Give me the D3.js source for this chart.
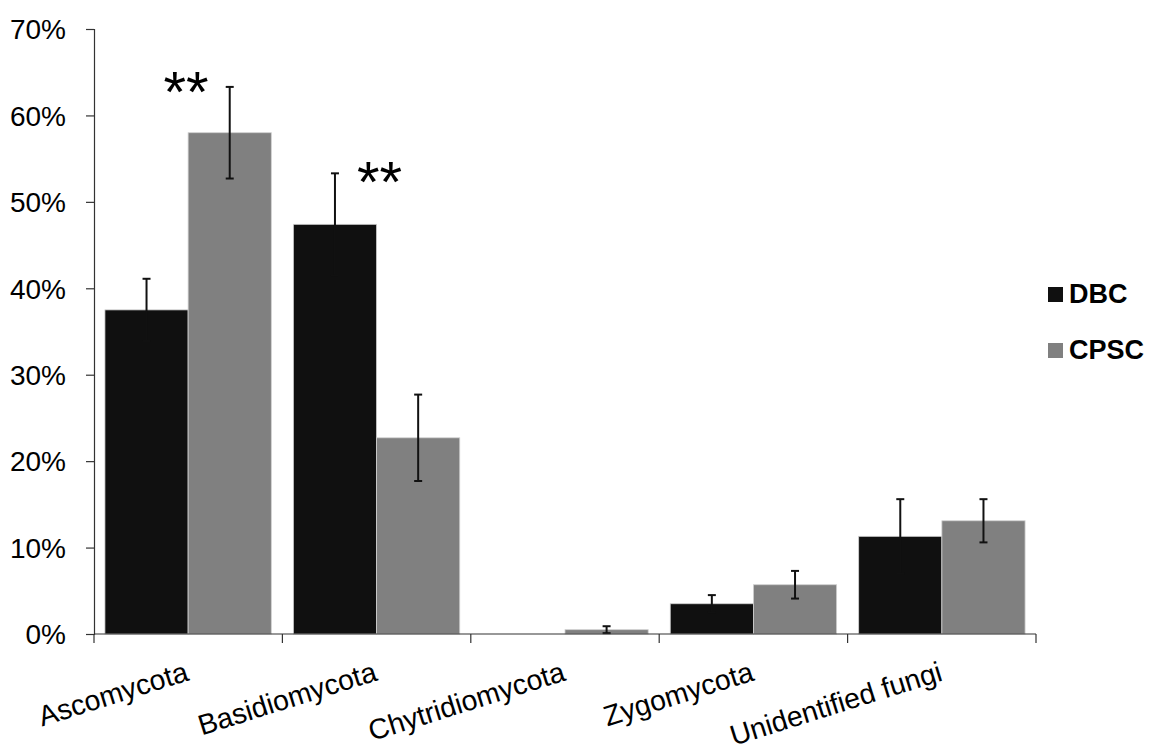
<!DOCTYPE html>
<html lang="en">
<head>
  <meta charset="UTF-8">
  <title>Fungal phyla DBC vs CPSC</title>
  <style>
    body { margin: 0; background: #fff; }
    text { font-family: Arial, "Liberation Sans", sans-serif; }
  </style>
</head>
<body>
  <svg id="svg" width="1149" height="752"></svg>

  <script src="https://d3js.org/d3.v7.min.js"></script>
  <script>
    // data (percent)
    const categories = ['Ascomycota', 'Basidiomycota', 'Chytridiomycota', 'Zygomycota', 'Unidentified fungi']
    const seriesNames = ['DBC', 'CPSC']
    const dbcValues = [37.5, 47.4, 0, 3.5, 11.3]
    const dbcErrors = [3.6, 5.9, 0, 1.0, 4.3]
    const cpscValues = [58.0, 22.7, 0.5, 5.7, 13.1]
    const cpscErrors = [5.3, 5.0, 0.4, 1.6, 2.5]
    const yTicks = [0, 10, 20, 30, 40, 50, 60, 70]
    // significance markers (value = height of the marker in %)
    const stars = [
      { cat: 'Ascomycota', label: '**', value: 65.2, shift: -2 },
      { cat: 'Basidiomycota', label: '**', value: 54.8, shift: 3 }
    ]

    const colors = { DBC: '#101010', CPSC: '#808080' }

    const margin = { top: 29, right: 113, bottom: 118, left: 94 }
    const width = 1036 - margin.left
    const height = 634 - margin.top

    const svg = d3.select('#svg')
    const g = svg.append('g').attr('transform', `translate(${margin.left}, ${margin.top})`)

    const x = d3.scaleBand().domain(categories).range([0, width]).paddingInner(0.117).paddingOuter(0.058)
    const xs = d3.scaleBand().domain(seriesNames).range([0, x.bandwidth()])
    const y = d3.scaleLinear().domain([0, 70]).range([height, 0])

    // build rows
    const rows = []
    categories.forEach((c, i) => {
      rows.push({ cat: c, series: 'DBC', value: dbcValues[i], err: dbcErrors[i] })
      rows.push({ cat: c, series: 'CPSC', value: cpscValues[i], err: cpscErrors[i] })
    })

    // bars
    g.selectAll('rect.bar')
      .data(rows.filter(d => d.value > 0))
      .join('rect')
      .attr('class', 'bar')
      .attr('x', d => x(d.cat) + xs(d.series))
      .attr('y', d => y(d.value))
      .attr('width', xs.bandwidth())
      .attr('height', d => y(0) - y(d.value))
      .attr('fill', d => colors[d.series])
      .attr('stroke', '#d0d0d0')
      .attr('stroke-width', 0.8)

    // error bars
    const errs = g.selectAll('g.err')
      .data(rows.filter(d => d.err > 0))
      .join('g')
      .attr('class', 'err')
      .attr('transform', d => `translate(${x(d.cat) + xs(d.series) + xs.bandwidth() / 2}, 0)`)
    errs.append('line')
      .attr('y1', d => y(d.value + d.err))
      .attr('y2', d => y(Math.max(0, d.value - d.err)))
      .attr('stroke', '#111').attr('stroke-width', 2)
    errs.append('line')
      .attr('x1', -4).attr('x2', 4)
      .attr('y1', d => y(d.value + d.err)).attr('y2', d => y(d.value + d.err))
      .attr('stroke', '#111').attr('stroke-width', 2)
    errs.append('line')
      .attr('x1', -4).attr('x2', 4)
      .attr('y1', d => y(Math.max(0, d.value - d.err))).attr('y2', d => y(Math.max(0, d.value - d.err)))
      .attr('stroke', '#111').attr('stroke-width', 2)

    // y axis
    const yAxis = g.append('g')
      .call(d3.axisLeft(y).tickValues(yTicks).tickFormat(d => d + '%').tickSize(8).tickPadding(20))
    yAxis.select('.domain').attr('stroke', '#333').attr('stroke-width', 1.2)
    yAxis.selectAll('.tick line').attr('stroke', '#333').attr('stroke-width', 1.2)
    yAxis.selectAll('.tick text')
      .attr('font-size', 28).attr('fill', '#000')
      .attr('font-family', 'Arial, "Liberation Sans", sans-serif')
      .attr('dy', '0.35em')

    // x axis with ticks at category boundaries
    const xAxisG = g.append('g').attr('transform', `translate(0, ${height})`)
    xAxisG.append('line').attr('x1', 0).attr('x2', width).attr('stroke', '#333').attr('stroke-width', 1.2)
    const boundaries = d3.range(categories.length + 1).map(i => i * width / categories.length)
    xAxisG.selectAll('line.tk')
      .data(boundaries)
      .join('line')
      .attr('class', 'tk')
      .attr('x1', d => d).attr('x2', d => d)
      .attr('y1', 0).attr('y2', 9)
      .attr('stroke', '#333').attr('stroke-width', 1.2)

    xAxisG.selectAll('text.cat')
      .data(categories)
      .join('text')
      .attr('class', 'cat')
      .attr('text-anchor', 'end')
      .attr('font-size', 28.5)
      .attr('fill', '#000')
      .attr('transform', d => `translate(${x(d) + x.bandwidth() / 2 + 2}, 46) rotate(-17.4)`)
      .text(d => d)

    // significance stars
    g.selectAll('text.star')
      .data(stars)
      .join('text')
      .attr('class', 'star')
      .attr('text-anchor', 'middle')
      .attr('font-size', 58)
      .attr('fill', '#000')
      .attr('x', d => x(d.cat) + x.bandwidth() / 2 + d.shift)
      .attr('y', d => y(d.value) + 42)
      .text(d => d.label)

    // legend
    const legend = svg.append('g').attr('transform', 'translate(1048, 287)')
    const li = legend.selectAll('g')
      .data(seriesNames)
      .join('g')
      .attr('transform', (d, i) => `translate(0, ${i * 56})`)
    li.append('rect').attr('width', 15).attr('height', 15).attr('fill', d => colors[d])
    li.append('text')
      .attr('x', 21).attr('y', 16)
      .attr('font-size', 27).attr('font-weight', 'bold').attr('fill', '#000')
      .text(d => d)
  </script>
</body>
</html>
